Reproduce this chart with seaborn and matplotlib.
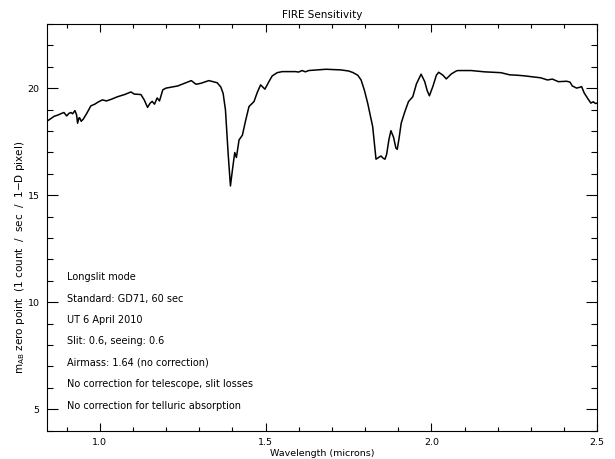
import numpy as np
import pandas as pd
import seaborn as sns
import matplotlib
matplotlib.use("Agg")
import matplotlib.pyplot as plt
from matplotlib.ticker import MultipleLocator

# Sensibilidad de FIRE
wavelength = [0.84, 0.85, 0.862, 0.875, 0.885, 0.892, 0.90, 0.907, 0.913, 0.918,
              0.925, 0.930, 0.933, 0.937, 0.939, 0.944, 0.950, 0.960, 0.973, 0.985,
              0.995, 1.008, 1.02, 1.035, 1.054, 1.075, 1.094, 1.104, 1.124, 1.134,
              1.144, 1.152, 1.158, 1.165, 1.173, 1.18, 1.19, 1.20, 1.235, 1.255,
              1.276, 1.29, 1.304, 1.329, 1.354, 1.365, 1.372, 1.379, 1.387, 1.394,
              1.401, 1.407, 1.412, 1.42, 1.43, 1.44, 1.45, 1.465, 1.475, 1.485,
              1.498, 1.51, 1.52, 1.535, 1.55, 1.59, 1.60, 1.61, 1.62, 1.63,
              1.682, 1.727, 1.75, 1.763, 1.778, 1.788, 1.798, 1.808, 1.823, 1.833,
              1.84, 1.848, 1.855, 1.86, 1.865, 1.872, 1.878, 1.886, 1.893, 1.897,
              1.902, 1.909, 1.92, 1.931, 1.944, 1.955, 1.969, 1.98, 1.987, 1.994,
              2.005, 2.015, 2.022, 2.035, 2.045, 2.06, 2.075, 2.08, 2.12, 2.16,
              2.21, 2.236, 2.26, 2.282, 2.31, 2.33, 2.35, 2.365, 2.383, 2.408,
              2.418, 2.425, 2.438, 2.448, 2.453, 2.461, 2.473, 2.481, 2.488, 2.495,
              2.50]
zero_point = [18.45, 18.55, 18.68, 18.75, 18.82, 18.86, 18.70, 18.82, 18.86, 18.80,
              18.95, 18.75, 18.36, 18.60, 18.62, 18.45, 18.55, 18.80, 19.17, 19.25,
              19.35, 19.45, 19.40, 19.48, 19.60, 19.70, 19.82, 19.72, 19.70, 19.45,
              19.10, 19.30, 19.38, 19.25, 19.54, 19.40, 19.92, 20.00, 20.10, 20.22,
              20.35, 20.18, 20.22, 20.35, 20.25, 20.05, 19.75, 18.98, 16.96, 15.43,
              16.30, 16.99, 16.76, 17.58, 17.80, 18.50, 19.14, 19.37, 19.80, 20.15,
              19.95, 20.30, 20.57, 20.72, 20.77, 20.77, 20.75, 20.82, 20.76, 20.82,
              20.88, 20.85, 20.80, 20.73, 20.60, 20.38, 19.90, 19.29, 18.20, 16.68,
              16.75, 16.83, 16.72, 16.68, 16.90, 17.60, 18.01, 17.70, 17.20, 17.14,
              17.60, 18.36, 18.90, 19.37, 19.60, 20.20, 20.65, 20.30, 19.90, 19.64,
              20.10, 20.60, 20.74, 20.60, 20.43, 20.66, 20.80, 20.82, 20.82, 20.76,
              20.72, 20.62, 20.60, 20.57, 20.52, 20.48, 20.38, 20.42, 20.30, 20.32,
              20.28, 20.10, 20.00, 20.04, 20.07, 19.77, 19.48, 19.30, 19.36, 19.28,
              19.30]

notas = ["Longslit mode",
         "Standard: GD71, 60 sec",
         "UT 6 April 2010",
         "Slit: 0.6, seeing: 0.6",
         "Airmass: 1.64 (no correction)",
         "No correction for telescope, slit losses",
         "No correction for telluric absorption"]

df = pd.DataFrame({"Wavelength": wavelength, "ZP": zero_point})

sns.set_theme(style="ticks")
plt.rcParams["font.family"] = ["DejaVu Sans"]
plt.rcParams["mathtext.fontset"] = "dejavusans"
plt.rcParams["text.color"] = "black"
plt.rcParams["axes.labelcolor"] = "black"

fig = plt.figure(figsize=(6.15, 4.59), dpi=100)
ax = fig.add_axes([0.076, 0.0617, 0.895, 0.8863])

sns.lineplot(data=df, x="Wavelength", y="ZP", color="black", lw=1.1,
             estimator=None, sort=False, ax=ax)

ax.set_xlim(0.84, 2.5)
ax.set_ylim(4, 23)
ax.xaxis.set_major_locator(MultipleLocator(0.5))
ax.xaxis.set_minor_locator(MultipleLocator(0.1))
ax.yaxis.set_major_locator(MultipleLocator(5))
ax.yaxis.set_minor_locator(MultipleLocator(1))
ax.xaxis.set_major_formatter(plt.FuncFormatter(lambda v, p: f"{v:.1f}"))

ax.tick_params(axis="both", which="both", direction="in", top=True, right=True,
               labelsize=6.8, width=0.8, colors="black", pad=5)
ax.tick_params(axis="y", which="major", length=8)
ax.tick_params(axis="y", which="minor", length=4)
ax.tick_params(axis="x", which="major", length=5.5)
ax.tick_params(axis="x", which="minor", length=3)
for s in ax.spines.values():
    s.set_linewidth(0.8)
    s.set_color("black")

ax.set_title("FIRE Sensitivity", fontsize=7.5, pad=4, color="black")
ax.set_xlabel("Wavelength (microns)", fontsize=6.8, labelpad=2)
ax.set_ylabel(r"m$_\mathrm{AB}$ zero point  (1 count  /  sec  /  1$-$D pixel)", fontsize=7.5)
ax.yaxis.set_label_coords(-0.036, 0.427)

for i, t in enumerate(notas):
    ax.text(0.9, 11.17 - i, t, fontsize=7, va="center", ha="left", color="black")

plt.savefig("out.png", dpi=100)
plt.close()
